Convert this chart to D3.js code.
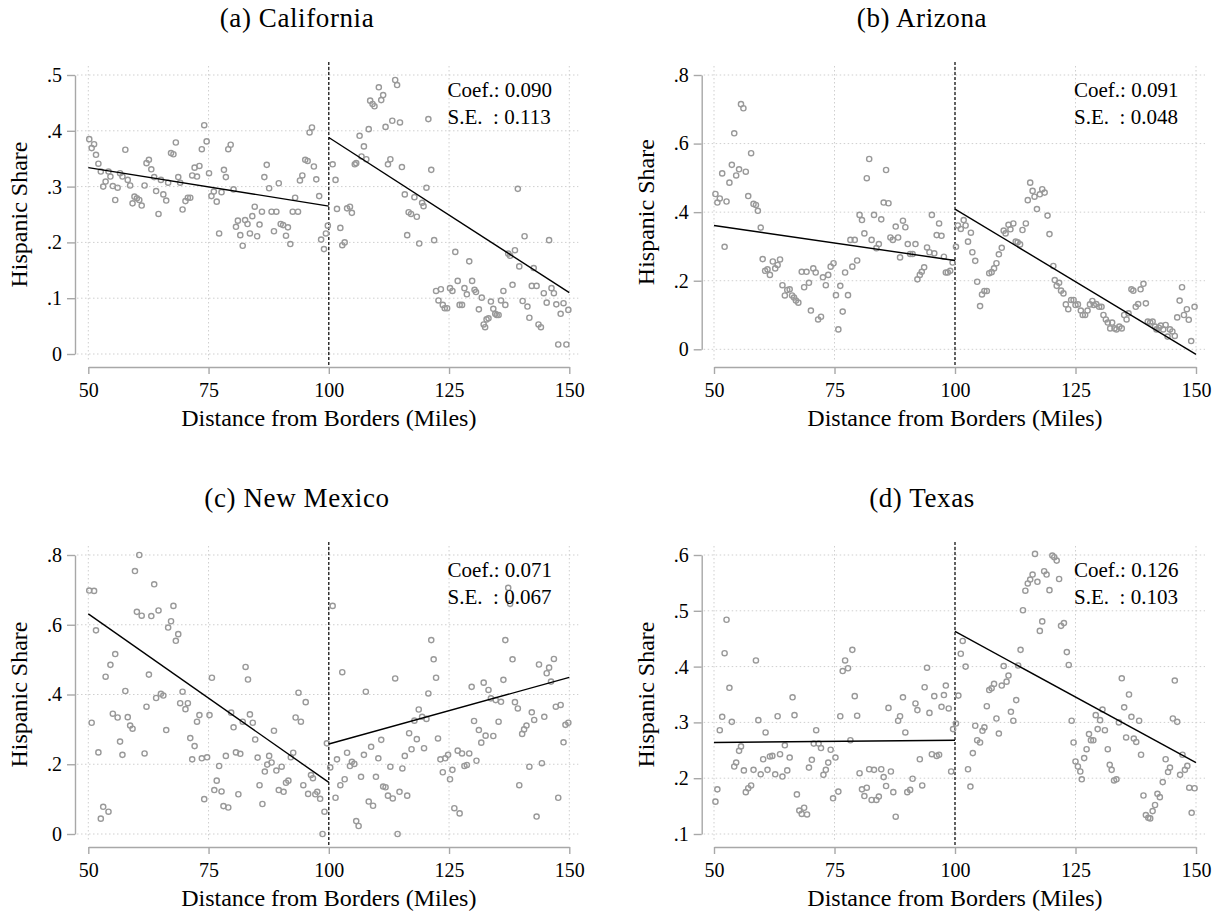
<!DOCTYPE html>
<html>
<head>
<meta charset="utf-8">
<script src="https://cdn.jsdelivr.net/npm/d3@7"></script>
<style>
  body { margin: 0; background: #fff; }
  svg { display: block; font-family: "Liberation Serif", "Times New Roman", serif; }
</style>
</head>
<body>
<svg width="1222" height="914"></svg>
<script>
// ---- data: [distance, hispanic share] ----
const caLeft = [[50.2,.385],[50.7,.369],[51.2,.376],[51.6,.357],[52.1,.341],[52.6,.327],[53.1,.300],[53.6,.309],[54.2,.327],[54.6,.318],[55.1,.301],[55.6,.276],[56.1,.298],[56.6,.324],[57.1,.318],[57.7,.366],[58.2,.312],[58.7,.302],[59.2,.270],[59.6,.282],[60.1,.279],[60.6,.276],[61.1,.266],[61.7,.302],[62.1,.342],[62.6,.348],[63.1,.331],[63.7,.317],[64.1,.292],[64.6,.251],[65.1,.312],[65.6,.286],[66.2,.275],[66.6,.307],[67.2,.360],[67.7,.358],[68.2,.379],[68.7,.317],[69.1,.307],[69.6,.259],[70.2,.274],[70.7,.280],[71.2,.280],[71.6,.320],[72.1,.334],[72.6,.318],[73.1,.337],[73.6,.367],[74.1,.410],[74.6,.381],[75.1,.324],[75.6,.283],[76.1,.291],[76.7,.273],[77.2,.216],[77.7,.290],[78.2,.330],[78.6,.317],[79.1,.367],[79.6,.375],[80.2,.295],[80.7,.228],[81.1,.239],[81.6,.213],[82.1,.194],[82.6,.240],[83.1,.233],[83.6,.216],[84.1,.247],[84.6,.264],[85.1,.211],[85.6,.232],[86.1,.255],[86.6,.317],[87.1,.339],[87.6,.297],[88.1,.255],[88.6,.220],[89.1,.255],[89.6,.306],[90.0,.233],[90.5,.231],[91.1,.212],[91.5,.227],[92.0,.197],[92.5,.255],[93.0,.280],[93.6,.255],[94.0,.311],[94.5,.320],[95.1,.348],[95.6,.346],[96.0,.397],[96.5,.406],[96.9,.336],[97.4,.313],[98.0,.283],[98.4,.205],[99.0,.188],[99.4,.216],[99.8,.230]];
const caRight = [[100.8,.340],[101.4,.312],[101.7,.260],[102.4,.226],[102.8,.195],[103.3,.200],[103.8,.261],[104.4,.264],[104.8,.253],[105.4,.340],[105.7,.342],[106.4,.391],[106.8,.354],[107.3,.372],[107.8,.349],[108.3,.403],[108.6,.454],[109.1,.448],[109.5,.444],[110.4,.478],[110.9,.455],[111.3,.464],[111.8,.407],[112.3,.340],[112.8,.349],[113.2,.418],[113.8,.491],[114.2,.482],[114.8,.415],[115.2,.335],[115.8,.286],[116.3,.213],[116.6,.254],[117.1,.251],[117.8,.281],[118.3,.246],[118.8,.198],[119.4,.271],[119.7,.265],[120.3,.298],[120.7,.421],[121.3,.330],[121.9,.204],[122.3,.113],[122.8,.096],[123.3,.116],[123.7,.088],[124.1,.082],[124.6,.082],[125.2,.118],[125.7,.113],[126.3,.183],[126.8,.131],[127.2,.088],[127.7,.088],[128.2,.118],[128.7,.107],[129.2,.166],[129.8,.131],[130.3,.115],[130.6,.111],[131.2,.080],[131.8,.101],[132.2,.053],[132.5,.048],[132.8,.062],[133.2,.064],[133.7,.094],[134.2,.081],[134.6,.072],[134.9,.070],[135.3,.070],[135.8,.096],[136.3,.113],[136.7,.088],[137.3,.180],[137.7,.176],[138.2,.124],[138.7,.186],[139.3,.296],[139.6,.157],[140.3,.095],[140.7,.211],[141.3,.085],[141.7,.065],[142.2,.122],[142.6,.154],[143.2,.122],[143.6,.053],[144.1,.048],[144.7,.109],[145.3,.092],[145.8,.204],[146.3,.118],[146.8,.109],[147.3,.089],[147.7,.017],[148.2,.072],[148.8,.091],[149.4,.017],[149.8,.079]];

const azLeft = [[50.3,.453],[50.7,.428],[51.2,.440],[51.7,.513],[52.2,.299],[52.6,.431],[53.2,.486],[53.7,.538],[54.2,.630],[54.6,.507],[55.2,.525],[55.6,.715],[56.1,.703],[56.6,.518],[57.1,.447],[57.7,.572],[58.2,.424],[58.7,.421],[59.1,.404],[59.7,.355],[60.1,.263],[60.6,.229],[61.1,.233],[61.6,.217],[62.2,.256],[62.7,.236],[63.2,.246],[63.7,.262],[64.2,.187],[64.7,.157],[65.2,.173],[65.7,.175],[66.2,.157],[66.6,.151],[67.0,.142],[67.5,.136],[68.2,.226],[68.7,.181],[69.2,.226],[69.7,.194],[70.1,.113],[70.6,.236],[71.1,.224],[71.6,.087],[72.2,.095],[72.6,.210],[73.2,.187],[73.7,.217],[74.2,.241],[74.8,.251],[75.3,.158],[75.8,.058],[76.2,.185],[76.7,.110],[77.2,.224],[77.8,.158],[78.3,.319],[78.7,.241],[79.2,.319],[79.7,.259],[80.2,.392],[80.7,.377],[81.2,.338],[81.7,.499],[82.2,.555],[82.7,.319],[83.2,.392],[83.7,.295],[84.2,.307],[84.7,.379],[85.2,.428],[85.7,.523],[86.2,.426],[86.6,.326],[87.1,.319],[87.7,.358],[88.2,.326],[88.6,.268],[89.2,.375],[89.7,.356],[90.2,.307],[90.7,.278],[91.2,.278],[91.8,.307],[92.2,.204],[92.7,.217],[93.1,.226],[93.6,.239],[94.2,.297],[94.7,.283],[95.2,.392],[95.7,.280],[96.2,.333],[96.7,.367],[97.2,.331],[97.7,.270],[98.1,.224],[98.5,.224],[99.0,.229],[99.5,.253]];
const azRight = [[100.2,.299],[100.6,.361],[101.2,.351],[101.8,.377],[102.2,.361],[102.7,.314],[103.3,.340],[103.6,.283],[104.2,.258],[104.6,.197],[105.2,.126],[105.6,.160],[106.1,.170],[106.6,.170],[107.1,.222],[107.6,.225],[108.1,.236],[108.6,.251],[109.1,.277],[109.7,.296],[110.1,.346],[110.5,.338],[111.1,.363],[111.5,.350],[112.1,.367],[112.6,.314],[113.0,.312],[113.5,.306],[114.0,.348],[114.7,.367],[115.1,.435],[115.6,.486],[116.1,.462],[116.5,.445],[117.0,.409],[117.6,.452],[118.1,.467],[118.6,.457],[119.2,.390],[119.6,.336],[120.4,.243],[120.7,.202],[121.1,.185],[121.6,.194],[122.0,.171],[122.5,.163],[123.0,.131],[123.5,.117],[124.1,.144],[124.6,.144],[125.0,.129],[125.5,.131],[126.1,.113],[126.5,.100],[127.0,.100],[127.5,.113],[128.0,.131],[128.5,.141],[128.8,.129],[129.3,.132],[129.9,.124],[130.4,.124],[130.8,.100],[131.3,.087],[131.7,.078],[132.2,.061],[132.6,.078],[133.1,.061],[133.5,.058],[134.1,.066],[134.6,.061],[135.1,.100],[135.6,.087],[136.0,.105],[136.6,.175],[137.0,.171],[137.5,.124],[138.0,.132],[138.5,.175],[139.1,.191],[139.6,.134],[140.0,.081],[140.5,.078],[141.0,.081],[141.5,.066],[141.8,.058],[142.3,.063],[142.7,.069],[143.2,.058],[143.7,.071],[144.1,.037],[144.6,.058],[145.1,.052],[145.6,.039],[146.1,.093],[146.6,.142],[147.1,.181],[147.5,.100],[148.1,.117],[148.5,.086],[149.0,.024],[149.7,.124]];

const nmLeft = [[50.2,.698],[50.7,.319],[51.2,.697],[51.6,.584],[52.1,.234],[52.6,.044],[53.1,.078],[53.6,.451],[54.2,.064],[54.6,.485],[55.1,.345],[55.6,.516],[56.1,.334],[56.6,.265],[57.1,.227],[57.7,.410],[58.2,.335],[58.7,.311],[59.2,.302],[59.7,.754],[60.1,.637],[60.6,.800],[61.1,.626],[61.7,.231],[62.1,.365],[62.6,.457],[63.1,.625],[63.7,.716],[64.1,.390],[64.6,.641],[65.1,.402],[65.6,.397],[66.2,.298],[66.6,.592],[67.2,.610],[67.7,.654],[68.2,.554],[68.7,.573],[69.1,.375],[69.6,.408],[70.2,.358],[70.7,.375],[71.2,.275],[71.6,.214],[72.1,.252],[72.6,.322],[73.1,.341],[73.6,.217],[74.1,.100],[74.7,.220],[75.2,.341],[75.7,.448],[76.2,.126],[76.7,.153],[77.2,.195],[77.7,.122],[78.1,.080],[78.6,.224],[79.1,.076],[79.7,.348],[80.2,.306],[80.7,.234],[81.2,.114],[81.6,.230],[82.1,.322],[82.7,.479],[83.2,.443],[83.6,.343],[84.2,.319],[84.7,.271],[85.2,.219],[85.6,.140],[86.2,.086],[86.7,.179],[87.2,.199],[87.6,.224],[88.1,.205],[88.6,.296],[89.1,.182],[89.6,.126],[90.2,.193],[90.6,.121],[91.1,.147],[91.6,.153],[92.1,.220],[92.6,.233],[93.1,.334],[93.7,.405],[94.2,.322],[94.7,.140],[95.2,.378],[95.7,.115],[96.3,.169],[96.7,.160],[97.2,.114],[97.6,.121],[98.2,.101],[98.7,.000],[99.1,.064],[99.6,.260]];
const nmRight = [[100.3,.191],[100.8,.654],[101.4,.104],[101.7,.214],[102.4,.140],[102.8,.464],[103.3,.157],[103.8,.233],[104.4,.195],[104.8,.207],[105.3,.201],[105.7,.037],[106.2,.023],[106.7,.164],[107.3,.227],[107.7,.408],[108.3,.093],[108.8,.250],[109.2,.081],[109.8,.164],[110.3,.217],[110.9,.270],[111.3,.136],[111.8,.134],[112.3,.110],[112.8,.193],[113.3,.102],[113.8,.446],[114.3,.000],[114.7,.121],[115.3,.188],[115.8,.224],[116.3,.110],[116.7,.289],[117.2,.243],[117.8,.325],[118.3,.272],[118.7,.357],[119.4,.336],[119.8,.246],[120.3,.330],[120.7,.403],[121.3,.556],[121.8,.501],[122.3,.448],[122.7,.274],[123.2,.214],[123.7,.177],[124.2,.217],[124.8,.227],[125.2,.157],[125.7,.184],[126.1,.074],[126.8,.239],[127.2,.059],[127.7,.231],[128.2,.195],[128.7,.198],[129.2,.231],[129.7,.422],[130.2,.324],[130.7,.210],[131.2,.298],[131.7,.262],[132.2,.434],[132.6,.282],[133.2,.413],[133.7,.389],[134.2,.281],[134.7,.384],[135.3,.322],[135.8,.379],[136.3,.442],[136.7,.556],[137.3,.706],[137.7,.660],[138.2,.501],[138.7,.378],[139.3,.360],[139.6,.140],[140.2,.287],[140.6,.300],[141.1,.311],[141.7,.193],[142.2,.349],[142.7,.327],[143.2,.050],[143.7,.486],[144.3,.203],[144.8,.336],[145.3,.461],[145.8,.477],[146.2,.437],[146.8,.502],[147.2,.365],[147.7,.104],[148.2,.370],[148.8,.263],[149.2,.313],[149.8,.319]];

const txLeft = [[50.3,.158],[50.7,.180],[51.2,.286],[51.7,.310],[52.2,.424],[52.6,.484],[53.2,.362],[53.7,.301],[54.2,.221],[54.6,.228],[55.2,.249],[55.6,.257],[56.2,.214],[56.6,.175],[57.1,.182],[57.7,.187],[58.2,.215],[58.7,.411],[59.2,.304],[59.7,.207],[60.2,.234],[60.7,.282],[61.1,.215],[61.6,.239],[62.1,.240],[62.7,.207],[63.2,.311],[63.7,.243],[64.2,.203],[64.7,.259],[65.2,.214],[65.7,.237],[66.3,.345],[66.7,.313],[67.2,.171],[67.7,.142],[68.2,.136],[68.7,.147],[69.3,.135],[69.7,.219],[70.3,.233],[70.7,.262],[71.2,.286],[71.7,.262],[72.2,.254],[72.7,.206],[73.2,.215],[73.7,.228],[74.2,.251],[74.7,.164],[75.2,.237],[75.8,.176],[76.2,.311],[76.7,.392],[77.2,.411],[77.8,.397],[78.3,.268],[78.7,.430],[79.2,.347],[79.7,.312],[80.2,.209],[80.7,.180],[81.2,.168],[81.7,.183],[82.2,.216],[82.7,.161],[83.2,.215],[83.7,.161],[84.2,.167],[84.7,.216],[85.2,.202],[85.7,.186],[86.2,.326],[86.7,.212],[87.2,.175],[87.7,.131],[88.2,.303],[88.6,.311],[89.2,.345],[89.7,.282],[90.1,.175],[90.7,.179],[91.2,.199],[91.8,.334],[92.2,.322],[92.7,.234],[93.2,.187],[93.7,.363],[94.2,.398],[94.7,.317],[95.2,.243],[95.7,.347],[96.2,.240],[96.7,.242],[97.2,.328],[97.7,.349],[98.1,.366],[98.7,.325],[99.2,.212],[99.6,.288]];
const txRight = [[100.2,.298],[100.7,.348],[101.2,.423],[101.6,.446],[102.2,.400],[102.7,.216],[103.2,.185],[103.7,.245],[104.2,.294],[104.6,.268],[105.2,.264],[105.7,.285],[106.1,.291],[106.6,.329],[107.1,.358],[107.6,.361],[108.1,.369],[108.6,.307],[109.1,.280],[109.7,.366],[110.1,.401],[110.7,.373],[111.1,.384],[111.6,.319],[112.1,.303],[112.7,.340],[113.1,.402],[113.6,.430],[114.1,.501],[114.6,.536],[115.1,.549],[115.6,.556],[116.1,.565],[116.6,.602],[117.1,.552],[117.6,.464],[118.1,.481],[118.5,.571],[119.0,.565],[119.6,.537],[120.2,.599],[120.6,.596],[121.1,.590],[121.6,.557],[122.0,.473],[122.6,.478],[123.2,.426],[123.6,.403],[124.2,.303],[124.6,.264],[125.0,.230],[125.5,.221],[126.0,.212],[126.3,.198],[126.8,.236],[127.3,.252],[127.8,.279],[128.2,.268],[128.7,.268],[129.2,.313],[129.6,.288],[130.1,.304],[130.6,.323],[131.1,.286],[131.7,.252],[132.1,.224],[132.5,.215],[133.0,.196],[133.5,.198],[134.0,.300],[134.6,.379],[135.1,.327],[135.5,.273],[136.1,.350],[136.6,.310],[137.1,.271],[137.6,.265],[138.2,.303],[138.6,.242],[139.1,.169],[139.6,.134],[140.1,.129],[140.5,.128],[141.0,.141],[141.5,.152],[142.0,.172],[142.5,.166],[143.1,.193],[143.7,.234],[144.2,.211],[144.6,.219],[145.2,.307],[145.6,.375],[146.1,.301],[146.7,.206],[147.2,.242],[147.7,.215],[148.2,.222],[148.6,.183],[149.1,.138],[149.7,.182]];

// fitted lines on each side of the 100-mile cutoff: [x1, y1, x2, y2]
const fitCA = [[50, .334, 100, .265], [100, .388, 150, .110]];
const fitAZ = [[50, .361, 100, .259], [100, .409, 150, -.0146]];
const fitNM = [[50, .631, 100, .148], [100, .258, 150, .449]];
const fitTX = [[50, .264, 100, .268], [100, .463, 150, .228]];

const titles = ["(a) California", "(b) Arizona", "(c) New Mexico", "(d) Texas"];
const coefs = ["0.090", "0.091", "0.071", "0.126"];
const ses = ["0.113", "0.048", "0.067", "0.103"];
const xTicks = [50, 75, 100, 125, 150];
const yTicksCA = [0, .1, .2, .3, .4, .5];
const yTicksAZ = [0, .2, .4, .6, .8];
const yTicksNM = [0, .2, .4, .6, .8];
const yTicksTX = [.1, .2, .3, .4, .5, .6];

// ---- layout ----
const cols = [{axisX: 75, x0: 88.3, x1: 569.3, titleX: 297},
              {axisX: 701.7, x0: 714, x1: 1196, titleX: 922}];
const rowTop = [75, 555];

const panels = [
  {left: caLeft, right: caRight, fit: fitCA, ticks: yTicksCA, col: 0, row: 0, bottom: 354},
  {left: azLeft, right: azRight, fit: fitAZ, ticks: yTicksAZ, col: 1, row: 0, bottom: 349.3},
  {left: nmLeft, right: nmRight, fit: fitNM, ticks: yTicksNM, col: 0, row: 1, bottom: 834},
  {left: txLeft, right: txRight, fit: fitTX, ticks: yTicksTX, col: 1, row: 1, bottom: 834}
];

const svg = d3.select('svg');
const fmt = d => d === 0 ? '0' : d3.format('.1f')(d).replace(/^0/, '');
const gridColor = '#cfcfcf';
const axisColor = '#a8a8a8';

panels.forEach((p, i) => {
  const c = cols[p.col];
  const top = rowTop[p.row];
  const x = d3.scaleLinear().domain([50, 150]).range([c.x0, c.x1]);
  const y = d3.scaleLinear().domain([p.ticks[0], p.ticks[p.ticks.length - 1]]).range([p.bottom, top]);
  const g = svg.append('g');
  const gridTop = top - 9, gridBottom = top + 287, gridRight = c.x1 + 9;

  // dotted grid
  g.selectAll('.hgrid').data(p.ticks).enter().append('line')
    .attr('x1', c.axisX + 2).attr('x2', gridRight)
    .attr('y1', d => y(d)).attr('y2', d => y(d))
    .attr('stroke', gridColor).attr('stroke-width', 1).attr('stroke-dasharray', '1.5,2.5');
  g.selectAll('.vgrid').data(xTicks).enter().append('line')
    .attr('x1', d => x(d)).attr('x2', d => x(d))
    .attr('y1', gridTop).attr('y2', gridBottom)
    .attr('stroke', gridColor).attr('stroke-width', 1).attr('stroke-dasharray', '1.5,2.5');

  // y axis
  const ya = g.append('g').attr('transform', 'translate(' + c.axisX + ',0)')
    .call(d3.axisLeft(y).tickValues(p.ticks).tickFormat(fmt).tickSizeOuter(0).tickSizeInner(8).tickPadding(5));
  ya.select('.domain').attr('stroke', axisColor).attr('stroke-width', 1.4);
  ya.selectAll('.tick line').attr('stroke', axisColor).attr('stroke-width', 1.4);
  ya.selectAll('.tick text').attr('fill', '#000').attr('font-size', 20)
    .attr('font-family', '"Liberation Serif", serif');

  // x axis (offset below the plot)
  const axY = top + 292;
  const xa = g.append('g').attr('transform', 'translate(0,' + axY + ')')
    .call(d3.axisBottom(x).tickValues(xTicks).tickSizeOuter(0).tickSizeInner(7).tickPadding(9));
  xa.select('.domain').attr('stroke', axisColor).attr('stroke-width', 1.4);
  xa.selectAll('.tick line').attr('stroke', axisColor).attr('stroke-width', 1.4);
  xa.selectAll('.tick text').attr('fill', '#000').attr('font-size', 20)
    .attr('font-family', '"Liberation Serif", serif');

  // cutoff line
  g.append('line').attr('x1', x(100)).attr('x2', x(100))
    .attr('y1', top - 13).attr('y2', axY - 2)
    .attr('stroke', '#000').attr('stroke-width', 1.2).attr('stroke-dasharray', '3,2');

  // scatter
  g.selectAll('.pt').data(p.left.concat(p.right)).enter().append('circle')
    .attr('cx', d => x(d[0])).attr('cy', d => y(d[1])).attr('r', 2.6)
    .attr('fill', 'none').attr('stroke', '#999').attr('stroke-width', 1.4);

  // fit lines
  g.selectAll('.fit').data(p.fit).enter().append('line')
    .attr('x1', d => x(d[0])).attr('y1', d => y(d[1]))
    .attr('x2', d => x(d[2])).attr('y2', d => y(d[3]))
    .attr('stroke', '#000').attr('stroke-width', 1.4);

  // coefficient box text
  const tx = x(124.7);
  g.append('text').attr('x', tx).attr('y', top + 21.7).attr('font-size', 21)
    .text('Coef.: ' + coefs[i]);
  g.append('text').attr('x', tx).attr('y', top + 49.3).attr('font-size', 21)
    .text('S.E.\u00a0\u00a0: ' + ses[i]);

  // axis titles
  g.append('text').attr('x', (c.x0 + c.x1) / 2).attr('y', top + 351).attr('text-anchor', 'middle')
    .attr('font-size', 24).text('Distance from Borders (Miles)');
  g.append('text').attr('transform', 'translate(' + (c.axisX - 48) + ',' + ((top + p.bottom) / 2) + ') rotate(-90)')
    .attr('text-anchor', 'middle').attr('font-size', 24).text('Hispanic Share');

  // panel title
  g.append('text').attr('x', c.titleX).attr('y', top - 48).attr('text-anchor', 'middle')
    .attr('font-size', 27).attr('letter-spacing', 0.6).text(titles[i]);
});
</script>
</body>
</html>
